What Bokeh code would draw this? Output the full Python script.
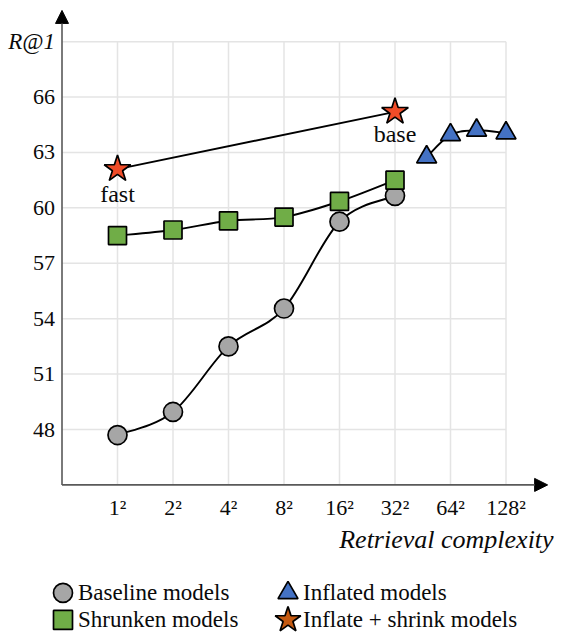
import numpy as np
from bokeh.plotting import figure
from bokeh.models import Range1d, Arrow, NormalHead
from bokeh.core.properties import value
from bokeh.embed import file_html
from bokeh.resources import INLINE

# ---------------- data ----------------
tick_labels = ["1²", "2²", "4²", "8²", "16²", "32²", "64²", "128²"]
tick_pos = [0, 1, 2, 3, 4, 5, 6, 7]
y_ticks = [48, 51, 54, 57, 60, 63, 66]
y_top_tick = 69

baseline_x = [0, 1, 2, 3, 4, 5]
baseline_y = [47.7, 48.95, 52.5, 54.55, 59.25, 60.65]
shrunken_x = [0, 1, 2, 3, 4, 5]
shrunken_y = [58.5, 58.8, 59.3, 59.5, 60.35, 61.5]
inflated_x = [5.57, 6.0, 6.47, 7.0]
inflated_y = [62.75, 63.95, 64.2, 64.05]
star_x = [0, 5]
star_y = [62.1, 65.2]
star_labels = ["fast", "base"]

legend_labels = ["Baseline models", "Inflated models", "Shrunken models", "Inflate + shrink models"]

# ---------------- layout ----------------
W, H = 554, 634
PX_X = 55.5
PX_Y = 18.47
X0 = -(117 / PX_X)
X1 = X0 + W / PX_X
Y1 = 48 + 429 / PX_Y
Y0 = Y1 - H / PX_Y
x_axis_y = 45.0
y_axis_x = -1.0
x_tip = 7.75
y_tip = 70.69

FONT = value("'Liberation Serif', serif")
TXT = "#0A0A0A"
GRAY, GREEN, BLUE, RED, BROWN = "#A6A6A6", "#70AD47", "#4472C4", "#F04C28", "#C55A11"

p = figure(width=W, height=H, output_backend="svg", toolbar_location=None,
           x_range=Range1d(X0, X1), y_range=Range1d(Y0, Y1),
           x_axis_location=None, y_axis_location=None, min_border=0)
p.outline_line_color = None
p.grid.visible = False
p.background_fill_color = "white"

# grid
gx = np.array(tick_pos, float)
p.segment(x0=gx, y0=[x_axis_y] * len(gx), x1=gx, y1=[y_top_tick] * len(gx),
          line_color="#E4E4E4", line_width=1.5)
gy = np.array(y_ticks + [y_top_tick], float)
p.segment(x0=[y_axis_x] * len(gy), y0=gy, x1=[tick_pos[-1]] * len(gy), y1=gy,
          line_color="#E4E4E4", line_width=1.5)

# axes with arrows
p.add_layout(Arrow(end=NormalHead(size=13, fill_color="black", line_color="black", line_width=1),
                   x_start=y_axis_x, y_start=x_axis_y, x_end=y_axis_x, y_end=y_tip,
                   line_color="#595959", line_width=1.6))
p.add_layout(Arrow(end=NormalHead(size=13, fill_color="black", line_color="black", line_width=1),
                   x_start=y_axis_x, y_start=x_axis_y, x_end=x_tip, y_end=x_axis_y,
                   line_color="#595959", line_width=1.6))

# tick labels
p.text(x=tick_pos, y=[x_axis_y] * len(tick_pos), text=tick_labels, y_offset=23,
       text_align="center", text_baseline="middle", text_font=FONT,
       text_font_size="22px", text_color=TXT)
p.text(x=[y_axis_x] * len(y_ticks), y=y_ticks, text=[str(t) for t in y_ticks], x_offset=-7,
       text_align="right", text_baseline="middle", text_font=FONT,
       text_font_size="22px", text_color=TXT)
p.text(x=[y_axis_x], y=[y_top_tick], text=["R@1"], x_offset=-7,
       text_align="right", text_baseline="middle", text_font=FONT,
       text_font_style="italic", text_font_size="23px", text_color=TXT)
p.text(x=[x_tip], y=[x_axis_y], text=["Retrieval complexity"], x_offset=6, y_offset=55,
       text_align="right", text_baseline="middle", text_font=FONT,
       text_font_style="italic", text_font_size="26px", text_color=TXT)


def smooth(xs, ys):
    xs = np.asarray(xs, float)
    ys = np.asarray(ys, float)
    n = len(xs)
    px = np.concatenate([[xs[0]], xs, [xs[-1]]])
    py = np.concatenate([[ys[0]], ys, [ys[-1]]])
    d = dict(x0=[], y0=[], x1=[], y1=[], cx0=[], cy0=[], cx1=[], cy1=[])
    for i in range(n - 1):
        a, b, c, e = i, i + 1, i + 2, i + 3
        d["x0"].append(px[b]); d["y0"].append(py[b])
        d["x1"].append(px[c]); d["y1"].append(py[c])
        d["cx0"].append(px[b] + (px[c] - px[a]) / 6); d["cy0"].append(py[b] + (py[c] - py[a]) / 6)
        d["cx1"].append(px[c] - (px[e] - px[b]) / 6); d["cy1"].append(py[c] - (py[e] - py[b]) / 6)
    return d


for xs, ys in [(baseline_x, baseline_y), (shrunken_x, shrunken_y), (inflated_x, inflated_y)]:
    p.bezier(**smooth(xs, ys), line_color="black", line_width=1.9)
p.line(star_x, star_y, line_color="black", line_width=1.9)

p.scatter(baseline_x, baseline_y, marker="circle", size=19, fill_color=GRAY,
          line_color="black", line_width=1.7)
p.scatter(shrunken_x, shrunken_y, marker="square", size=18, fill_color=GREEN,
          line_color="black", line_width=1.7)
p.scatter(inflated_x, inflated_y, marker="triangle", size=20, fill_color=BLUE,
          line_color="black", line_width=1.7)
p.scatter(star_x, star_y, marker="star", size=28, fill_color=RED,
          line_color="black", line_width=1.7)
p.text(x=star_x, y=star_y, text=star_labels, y_offset=[25, 22], text_align="center",
       text_baseline="middle", text_font=FONT, text_font_size="24px", text_color=TXT)

# legend (manual, below the axis)
lg_rows = [x_axis_y - 108 / PX_Y, x_axis_y - 135 / PX_Y]
lg_cols = [y_axis_x + 1 / PX_X, y_axis_x + 226 / PX_X]
lg_text_dx = 15 / PX_X
lg_x = [lg_cols[0], lg_cols[1], lg_cols[0], lg_cols[1]]
lg_y = [lg_rows[0], lg_rows[0], lg_rows[1], lg_rows[1]]
p.scatter([lg_x[0]], [lg_y[0]], marker="circle", size=19, fill_color=GRAY, line_color="black", line_width=1.7)
p.scatter([lg_x[1]], [lg_y[1]], marker="triangle", size=20, fill_color=BLUE, line_color="black", line_width=1.7)
p.scatter([lg_x[2]], [lg_y[2]], marker="square", size=19, fill_color=GREEN, line_color="black", line_width=1.7)
p.scatter([lg_x[3]], [lg_y[3]], marker="star", size=27, fill_color=BROWN, line_color="black", line_width=1.7)
p.text(x=[v + lg_text_dx for v in lg_x], y=lg_y, text=legend_labels, text_align="left",
       text_baseline="middle", text_font=FONT, text_font_size="23px", text_color=TXT)

open("out.html", "w").write(file_html(p, INLINE))
